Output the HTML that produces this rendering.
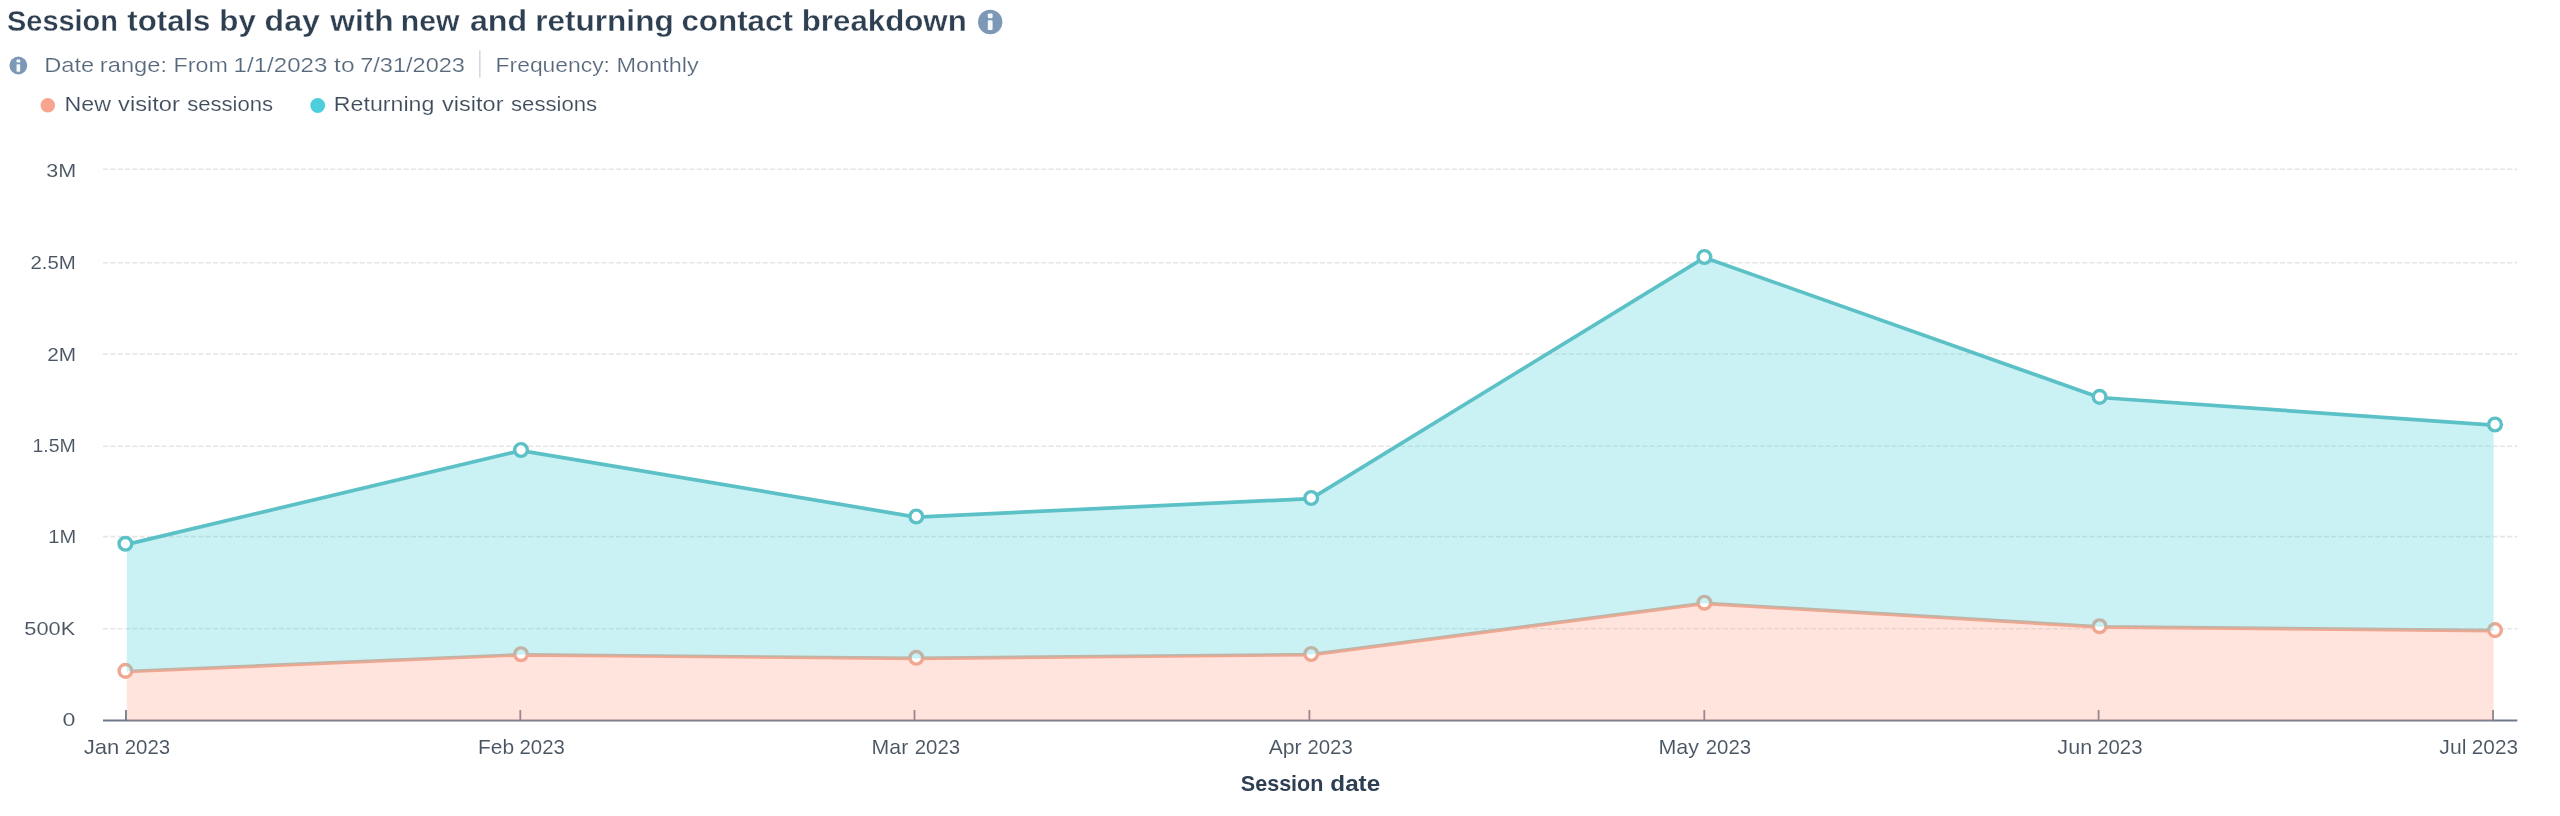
<!DOCTYPE html>
<html lang="en">
<head>
<meta charset="utf-8">
<title>Session totals by day with new and returning contact breakdown</title>
<style>
html,body{margin:0;padding:0;background:#fff;}
body{width:2560px;height:816px;overflow:hidden;font-family:"Liberation Sans", sans-serif;}
svg{display:block;}
svg text{font-family:"Liberation Sans", sans-serif;}
</style>
</head>
<body>
<svg width="2560" height="816" viewBox="0 0 2560 816">
<rect x="0" y="0" width="2560" height="816" fill="#ffffff"/>
<g stroke="#e5e5e5" stroke-width="1.6" stroke-dasharray="5.1 2.23" fill="none">
<line x1="103.0" y1="169.3" x2="2517.3" y2="169.3"/>
<line x1="103.0" y1="262.7" x2="2517.3" y2="262.7"/>
<line x1="103.0" y1="354.0" x2="2517.3" y2="354.0"/>
<line x1="103.0" y1="446.2" x2="2517.3" y2="446.2"/>
<line x1="103.0" y1="536.6" x2="2517.3" y2="536.6"/>
<line x1="103.0" y1="628.8" x2="2517.3" y2="628.8"/>
</g>
<line x1="103.0" y1="720.5" x2="2517.3" y2="720.5" stroke="#6e7a8b" stroke-width="2"/>
<g stroke="#6e7a8b" stroke-width="1.8">
<line x1="126.0" y1="710.0" x2="126.0" y2="720.5"/>
<line x1="520.3" y1="710.0" x2="520.3" y2="720.5"/>
<line x1="914.5" y1="710.0" x2="914.5" y2="720.5"/>
<line x1="1309.4" y1="710.0" x2="1309.4" y2="720.5"/>
<line x1="1704.3" y1="710.0" x2="1704.3" y2="720.5"/>
<line x1="2098.6" y1="710.0" x2="2098.6" y2="720.5"/>
<line x1="2493.0" y1="710.0" x2="2493.0" y2="720.5"/>
</g>
<polygon points="126.8,671.5 521.0,654.8 916.3,658.4 1311.2,654.6 1704.4,603.3 2099.6,626.8 2493.6,630.7 2493.6,720.5 126.8,720.5" fill="#fea58e" fill-opacity="0.3"/>
<polyline points="126.8,671.5 521.0,654.8 916.3,658.4 1311.2,654.6 1704.4,603.3 2099.6,626.8 2493.6,630.7" fill="none" stroke="#f1a690" stroke-width="3.7" stroke-linejoin="round" stroke-linecap="round"/>
<g fill="#ffffff" stroke="#f1a690" stroke-width="3.4">
<circle cx="125.4" cy="670.9" r="6.35"/>
<circle cx="521.0" cy="654.2" r="6.35"/>
<circle cx="916.3" cy="657.8" r="6.35"/>
<circle cx="1311.2" cy="654.0" r="6.35"/>
<circle cx="1704.4" cy="602.7" r="6.35"/>
<circle cx="2099.6" cy="626.2" r="6.35"/>
<circle cx="2495.0" cy="630.1" r="6.35"/>
</g>
<polygon points="126.8,544.4 521.0,450.6 916.3,517.1 1311.2,498.6 1704.4,257.6 2099.6,397.5 2493.6,425.1 2493.6,630.7 2099.6,626.8 1704.4,603.3 1311.2,654.6 916.3,658.4 521.0,654.8 126.8,671.5" fill="#51d3d9" fill-opacity="0.3"/>
<polyline points="126.8,544.4 521.0,450.6 916.3,517.1 1311.2,498.6 1704.4,257.6 2099.6,397.5 2493.6,425.1" fill="none" stroke="#5cc1c6" stroke-width="3.7" stroke-linejoin="round" stroke-linecap="round"/>
<g fill="#ffffff" stroke="#5cc1c6" stroke-width="3.4">
<circle cx="125.4" cy="543.8" r="6.35"/>
<circle cx="521.0" cy="450.0" r="6.35"/>
<circle cx="916.3" cy="516.5" r="6.35"/>
<circle cx="1311.2" cy="498.0" r="6.35"/>
<circle cx="1704.4" cy="257.0" r="6.35"/>
<circle cx="2099.6" cy="396.9" r="6.35"/>
<circle cx="2495.0" cy="424.5" r="6.35"/>
</g>
<circle cx="47.8" cy="105.3" r="7.2" fill="#f9a48e"/>
<circle cx="317.7" cy="105.5" r="7.4" fill="#4ccfdb"/>
<g><circle cx="990.2" cy="22" r="12.2" fill="#7d97b6"/><rect x="987.8" y="13.4" width="4.8" height="4.8" rx="1.2" fill="#f6f9fc"/><rect x="987.8" y="20.3" width="4.8" height="9.8" rx="0.8" fill="#f6f9fc"/></g>
<g><circle cx="18.35" cy="65.5" r="8.9" fill="#7d97b6"/><rect x="16.55" y="59.4" width="3.6" height="3.2" rx="0.9" fill="#f6f9fc"/><rect x="16.55" y="64.3" width="3.6" height="7.4" rx="0.6" fill="#f6f9fc"/></g>
<line x1="479.8" y1="50.5" x2="479.8" y2="77.5" stroke="#cfd8e3" stroke-width="1.6"/>
<defs><filter id="aa" filterUnits="userSpaceOnUse" x="0" y="0" width="2560" height="816" color-interpolation-filters="sRGB"><feOffset dx="0" dy="0"/></filter></defs>
<g filter="url(#aa)">
<g font-size="29.6" font-weight="700" fill="#2e3f52" stroke="#ffffff" stroke-width="0.3">
<text x="7.04" y="30.9" textLength="110.84" lengthAdjust="spacingAndGlyphs">Session</text>
<text x="127.37" y="30.9" textLength="83.08" lengthAdjust="spacingAndGlyphs">totals</text>
<text x="219.26" y="30.9" textLength="36.56" lengthAdjust="spacingAndGlyphs">by</text>
<text x="264.57" y="30.9" textLength="55.29" lengthAdjust="spacingAndGlyphs">day</text>
<text x="330.33" y="30.9" textLength="63.15" lengthAdjust="spacingAndGlyphs">with</text>
<text x="400.84" y="30.9" textLength="58.69" lengthAdjust="spacingAndGlyphs">new</text>
<text x="469.90" y="30.9" textLength="57.23" lengthAdjust="spacingAndGlyphs">and</text>
<text x="535.24" y="30.9" textLength="138.44" lengthAdjust="spacingAndGlyphs">returning</text>
<text x="681.46" y="30.9" textLength="111.38" lengthAdjust="spacingAndGlyphs">contact</text>
<text x="801.76" y="30.9" textLength="164.99" lengthAdjust="spacingAndGlyphs">breakdown</text>
</g>
<g font-size="20.8" font-weight="400" fill="#56687b" stroke="#ffffff" stroke-width="0.2">
<text x="44.25" y="72.1" textLength="50.00" lengthAdjust="spacingAndGlyphs">Date</text>
<text x="99.86" y="72.1" textLength="67.09" lengthAdjust="spacingAndGlyphs">range:</text>
<text x="173.58" y="72.1" textLength="54.27" lengthAdjust="spacingAndGlyphs">From</text>
<text x="233.64" y="72.1" textLength="93.70" lengthAdjust="spacingAndGlyphs">1/1/2023</text>
<text x="334.08" y="72.1" textLength="20.43" lengthAdjust="spacingAndGlyphs">to</text>
<text x="360.16" y="72.1" textLength="104.82" lengthAdjust="spacingAndGlyphs">7/31/2023</text>
</g>
<g font-size="20.8" font-weight="400" fill="#56687b" stroke="#ffffff" stroke-width="0.2">
<text x="495.62" y="72.1" textLength="114.35" lengthAdjust="spacingAndGlyphs">Frequency:</text>
<text x="616.57" y="72.1" textLength="82.06" lengthAdjust="spacingAndGlyphs">Monthly</text>
</g>
<g font-size="19.9" font-weight="400" fill="#3e4c5c" stroke="#ffffff" stroke-width="0.14">
<text x="64.56" y="110.7" textLength="46.43" lengthAdjust="spacingAndGlyphs">New</text>
<text x="118.12" y="110.7" textLength="61.78" lengthAdjust="spacingAndGlyphs">visitor</text>
<text x="187.15" y="110.7" textLength="85.96" lengthAdjust="spacingAndGlyphs">sessions</text>
</g>
<g font-size="19.9" font-weight="400" fill="#3e4c5c" stroke="#ffffff" stroke-width="0.14">
<text x="333.87" y="110.7" textLength="100.48" lengthAdjust="spacingAndGlyphs">Returning</text>
<text x="442.12" y="110.7" textLength="61.38" lengthAdjust="spacingAndGlyphs">visitor</text>
<text x="511.05" y="110.7" textLength="86.06" lengthAdjust="spacingAndGlyphs">sessions</text>
</g>
<g font-size="19.0" font-weight="400" fill="#485461" stroke="#ffffff" stroke-width="0.08">
<text x="46.16" y="177.0" textLength="29.96" lengthAdjust="spacingAndGlyphs">3M</text>
</g>
<g font-size="19.0" font-weight="400" fill="#485461" stroke="#ffffff" stroke-width="0.08">
<text x="30.50" y="268.9" textLength="45.36" lengthAdjust="spacingAndGlyphs">2.5M</text>
</g>
<g font-size="19.0" font-weight="400" fill="#485461" stroke="#ffffff" stroke-width="0.08">
<text x="47.18" y="360.5" textLength="28.88" lengthAdjust="spacingAndGlyphs">2M</text>
</g>
<g font-size="19.0" font-weight="400" fill="#485461" stroke="#ffffff" stroke-width="0.08">
<text x="32.46" y="452.4" textLength="43.32" lengthAdjust="spacingAndGlyphs">1.5M</text>
</g>
<g font-size="19.0" font-weight="400" fill="#485461" stroke="#ffffff" stroke-width="0.08">
<text x="48.32" y="542.9" textLength="27.88" lengthAdjust="spacingAndGlyphs">1M</text>
</g>
<g font-size="19.0" font-weight="400" fill="#485461" stroke="#ffffff" stroke-width="0.08">
<text x="24.32" y="634.6" textLength="50.87" lengthAdjust="spacingAndGlyphs">500K</text>
</g>
<g font-size="19.0" font-weight="400" fill="#485461" stroke="#ffffff" stroke-width="0.08">
<text x="62.49" y="726.3" textLength="12.91" lengthAdjust="spacingAndGlyphs">0</text>
</g>
<g font-size="19.8" font-weight="400" fill="#485461" stroke="#ffffff" stroke-width="0.08">
<text x="83.76" y="754.1" textLength="35.62" lengthAdjust="spacingAndGlyphs">Jan</text>
<text x="124.74" y="754.1" textLength="45.48" lengthAdjust="spacingAndGlyphs">2023</text>
</g>
<g font-size="19.8" font-weight="400" fill="#485461" stroke="#ffffff" stroke-width="0.08">
<text x="477.94" y="754.1" textLength="36.10" lengthAdjust="spacingAndGlyphs">Feb</text>
<text x="519.54" y="754.1" textLength="45.27" lengthAdjust="spacingAndGlyphs">2023</text>
</g>
<g font-size="19.8" font-weight="400" fill="#485461" stroke="#ffffff" stroke-width="0.08">
<text x="871.62" y="754.1" textLength="36.61" lengthAdjust="spacingAndGlyphs">Mar</text>
<text x="914.74" y="754.1" textLength="45.37" lengthAdjust="spacingAndGlyphs">2023</text>
</g>
<g font-size="19.8" font-weight="400" fill="#485461" stroke="#ffffff" stroke-width="0.08">
<text x="1268.66" y="754.1" textLength="32.97" lengthAdjust="spacingAndGlyphs">Apr</text>
<text x="1307.44" y="754.1" textLength="45.27" lengthAdjust="spacingAndGlyphs">2023</text>
</g>
<g font-size="19.8" font-weight="400" fill="#485461" stroke="#ffffff" stroke-width="0.08">
<text x="1658.50" y="754.1" textLength="40.48" lengthAdjust="spacingAndGlyphs">May</text>
<text x="1705.74" y="754.1" textLength="45.37" lengthAdjust="spacingAndGlyphs">2023</text>
</g>
<g font-size="19.8" font-weight="400" fill="#485461" stroke="#ffffff" stroke-width="0.08">
<text x="2057.37" y="754.1" textLength="34.78" lengthAdjust="spacingAndGlyphs">Jun</text>
<text x="2097.24" y="754.1" textLength="45.27" lengthAdjust="spacingAndGlyphs">2023</text>
</g>
<g font-size="19.8" font-weight="400" fill="#485461" stroke="#ffffff" stroke-width="0.08">
<text x="2439.38" y="754.1" textLength="27.07" lengthAdjust="spacingAndGlyphs">Jul</text>
<text x="2471.82" y="754.1" textLength="46.21" lengthAdjust="spacingAndGlyphs">2023</text>
</g>
<g font-size="21.2" font-weight="700" fill="#2e3f52" stroke="#ffffff" stroke-width="0.0">
<text x="1240.84" y="790.7" textLength="82.59" lengthAdjust="spacingAndGlyphs">Session</text>
<text x="1330.35" y="790.7" textLength="49.83" lengthAdjust="spacingAndGlyphs">date</text>
</g>
</g>
</svg>
</body>
</html>
